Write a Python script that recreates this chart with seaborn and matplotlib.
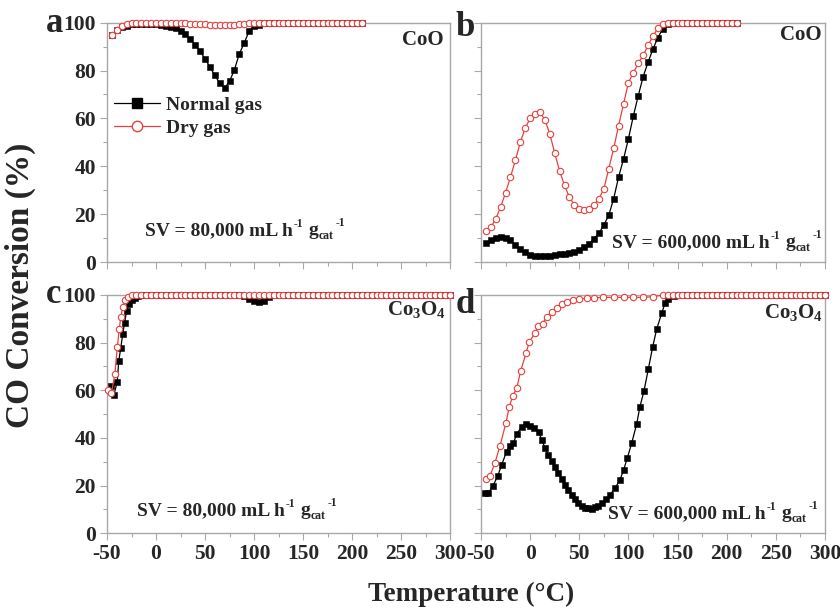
import matplotlib
matplotlib.use("Agg")
import matplotlib.pyplot as plt
import seaborn as sns
from matplotlib.lines import Line2D
from matplotlib.ticker import MultipleLocator

# ---------------- data ----------------
series_labels = ["Normal gas", "Dry gas"]

# Panel a: CoO, SV = 80,000
temp_a = [-45, -40, -35, -30, -25, -20, -15, -10, -5, 0,
          5, 10, 15, 20, 25, 30, 35, 40, 45, 50,
          55, 60, 65, 70, 75, 80, 85, 90, 95, 100,
          105, 110, 115, 120, 125, 130, 135, 140, 145, 150,
          155, 160, 165, 170, 175, 180, 185, 190, 195, 200,
          205, 210]
a_normal = [95, 96.8, 98, 98.8, 99.3, 99.5, 99.6, 99.6, 99.5, 99.3,
            99.1, 98.8, 98.3, 97.6, 96.6, 95.2, 93.2, 90.8, 88, 85,
            81.5, 78, 74.8, 72.6, 75.5, 80.3, 87, 91.5, 96.5, 98.5,
            99.2, 99.7, 99.9, 100, 100, 100, 100, 100, 100, 100,
            100, 100, 100, 100, 100, 100, 100, 100, 100, 100,
            100, 100]
a_dry = [95, 97, 98.7, 99.5, 99.8, 99.8, 99.8, 99.8, 99.8, 99.8,
         99.8, 99.8, 99.8, 99.8, 99.7, 99.7, 99.6, 99.5, 99.4, 99.3,
         99.2, 99.1, 99, 99, 99, 99.1, 99.3, 99.5, 99.7, 99.9,
         100, 100, 100, 100, 100, 100, 100, 100, 100, 100,
         100, 100, 100, 100, 100, 100, 100, 100, 100, 100,
         100, 100]

# Panel b: CoO, SV = 600,000
temp_b = [-45, -40, -35, -30, -25, -20, -15, -10, -5, 0,
          5, 10, 15, 20, 25, 30, 35, 40, 45, 50,
          55, 60, 65, 70, 75, 80, 85, 90, 95, 100,
          105, 110, 115, 120, 125, 130, 135, 140, 145, 150,
          155, 160, 165, 170, 175, 180, 185, 190, 195, 200,
          205, 210]
b_normal = [8, 9.2, 10.2, 10.6, 10.2, 9, 7.2, 5.5, 4, 3,
            2.6, 2.4, 2.5, 2.7, 3, 3.2, 3.5, 3.8, 4.2, 5,
            6.2, 7.6, 9.8, 12, 15.5, 19.5, 26.5, 35.5, 43, 51.5,
            61, 69.5, 77.5, 83.5, 89, 93.8, 97.5, 99.3, 100, 100,
            100, 100, 100, 100, 100, 100, 100, 100, 100, 100,
            100, 100]
b_dry = [13, 14.5, 18, 23, 29, 35.5, 42.5, 50, 56, 60,
         62, 62.5, 59.5, 53.5, 45.5, 38, 32, 27, 24, 22.3,
         21.8, 22.2, 23.8, 26.5, 30.5, 39, 47.5, 57, 66, 75,
         79, 83, 86.5, 90.5, 94.5, 97.6, 99.3, 99.8, 100, 100,
         100, 100, 100, 100, 100, 100, 100, 100, 100, 100,
         100, 100]

# Panel c: Co3O4, SV = 80,000
temp_c_normal = [-46, -43, -39.5, -38, -36, -34, -32, -30, -27.5, -25,
                 -21.5, -18, -14, -10, -5,
                 0, 5, 10, 15, 20, 25, 30, 35, 40, 45,
                 50, 55, 60, 65, 70, 75, 80, 85, 90, 95,
                 100, 105, 110, 115, 120, 125, 130, 135, 140, 145,
                 150, 155, 160, 165, 170, 175, 180, 185, 190, 195,
                 200, 205, 210, 215, 220, 225, 230, 235, 240, 245,
                 250, 255, 260, 265, 270, 275, 280, 285, 290, 295,
                 300]
c_normal = [61.8, 58, 63.6, 72.4, 77.6, 83.5, 88.4, 93.3, 96.1, 97.7,
            98.8, 99.5, 99.8, 100, 100,
            100, 100, 100, 100, 100, 100, 100, 100, 100, 100,
            100, 100, 100, 100, 100, 100, 100, 100, 99.5, 98.5,
            97.3, 97, 97.6, 99.2, 99.8, 100, 100, 100, 100, 100,
            100, 100, 100, 100, 100, 100, 100, 100, 100, 100,
            100, 100, 100, 100, 100, 100, 100, 100, 100, 100,
            100, 100, 100, 100, 100, 100, 100, 100, 100, 100,
            100]
temp_c_dry = [-48.5, -45.5, -42, -39.5, -37.5, -36, -34, -31.7, -28.5, -25,
              -20, -15, -10, -5,
              0, 5, 10, 15, 20, 25, 30, 35, 40, 45,
              50, 55, 60, 65, 70, 75, 80, 85, 90, 95,
              100, 105, 110, 115, 120, 125, 130, 135, 140, 145,
              150, 155, 160, 165, 170, 175, 180, 185, 190, 195,
              200, 205, 210, 215, 220, 225, 230, 235, 240, 245,
              250, 255, 260, 265, 270, 275, 280, 285, 290, 295,
              300]
c_dry = [60, 58.7, 66.8, 78, 85.6, 90.6, 94.8, 97.9, 99.3, 99.8,
         100, 100, 100, 100,
         100, 100, 100, 100, 100, 100, 100, 100, 100, 100,
         100, 100, 100, 100, 100, 100, 100, 100, 100, 100,
         100, 100, 100, 100, 100, 100, 100, 100, 100, 100,
         100, 100, 100, 100, 100, 100, 100, 100, 100, 100,
         100, 100, 100, 100, 100, 100, 100, 100, 100, 100,
         100, 100, 100, 100, 100, 100, 100, 100, 100, 100,
         100]

# Panel d: Co3O4, SV = 600,000
temp_d_normal = [-46, -42.5, -38, -33, -29, -24, -21, -17, -13.7, -8.6,
                 -4.2, 0.3, 4.3, 8.7, 11.7, 15, 18.5, 22, 25.3, 28.7,
                 32.1, 35.5, 38.8, 42.2, 45.6, 49, 52.4, 55.8, 59.2, 62.6,
                 66, 69.4, 72.8, 77, 81.2, 86.3, 91.4, 95, 98.8, 103.3,
                 108.4, 111.7, 115.8, 120.2, 124.7, 128.7, 133.8, 137.2, 140.5, 146,
                 150, 155, 160, 165, 170, 175, 180, 185, 190, 195,
                 200, 205, 210, 215, 220, 225, 230, 235, 240, 245,
                 250, 255, 260, 265, 270, 275, 280, 285, 290, 295,
                 300]
d_normal = [17, 17, 19.8, 24, 28.7, 34.3, 36.8, 37.8, 41.7, 44.7,
            45.9, 45, 44, 42.6, 39.2, 36, 32.9, 30.5, 28, 25.3,
            22.7, 20.3, 18.2, 16.2, 14.3, 12.8, 11.5, 10.8, 10.5, 10.4,
            10.9, 11.6, 12.6, 14.2, 16.1, 18.9, 22.4, 26.5, 31.5, 37.8,
            45.9, 53.1, 59.7, 68.8, 78.3, 85.6, 92.3, 96.5, 98.3, 99.6,
            100, 100, 100, 100, 100, 100, 100, 100, 100, 100,
            100, 100, 100, 100, 100, 100, 100, 100, 100, 100,
            100, 100, 100, 100, 100, 100, 100, 100, 100, 100,
            100]
temp_d_dry = [-44.9, -40.9, -35.8, -30.7, -24.6, -21.2, -17.8, -13.7, -9.6, -4.2,
              -0.8, 4.9, 8.3, 12.8, 16.8, 21.9, 27, 32, 37.1, 44,
              50, 57.5, 65, 74.5, 85, 95, 105, 115, 125, 135,
              140, 145, 150, 155, 160, 165, 170, 175, 180, 185,
              190, 195, 200, 205, 210, 215, 220, 225, 230, 235,
              240, 245, 250, 255, 260, 265, 270, 275, 280, 285,
              290, 295, 300]
d_dry = [22.7, 24, 29.6, 36.6, 46.4, 53.1, 57.6, 60.8, 68.2, 75.5,
         80.4, 83.9, 87.1, 88, 90.9, 92.7, 94.4, 96.2, 97.2, 97.9,
         98.3, 98.6, 98.8, 99, 99, 99, 99, 99, 99.3, 100,
         100, 100, 100, 100, 100, 100, 100, 100, 100, 100,
         100, 100, 100, 100, 100, 100, 100, 100, 100, 100,
         100, 100, 100, 100, 100, 100, 100, 100, 100, 100,
         100, 100, 100]

panel_letters = ["a", "b", "c", "d"]
panel_materials = ["CoO", "CoO", r"Co$_3$O$_4$", r"Co$_3$O$_4$"]
sv_values = ["80,000", "600,000", "80,000", "600,000"]
x_label = "Temperature (°C)"
y_label = "CO Conversion (%)"

# ---------------- styling ----------------
sns.set_theme(style="ticks")
plt.rcParams.update({
    "font.family": ["Liberation Serif", "DejaVu Serif"],
    "font.weight": "bold",
    "mathtext.fontset": "custom",
    "mathtext.rm": "Liberation Serif:bold",
    "mathtext.bf": "Liberation Serif:bold",
    "mathtext.it": "Liberation Serif:bold:italic",
    "mathtext.default": "rm",
    "axes.unicode_minus": False,
})

RED = "#e8413c"
GRAY = "#a8a8a8"
W, H = 840, 608
fig = plt.figure(figsize=(W / 100, H / 100), dpi=100)
fig.patch.set_facecolor("white")


def add_ax(l, r, t, b):
    return fig.add_axes([l / W, 1 - b / H, (r - l) / W, (b - t) / H])


axa = add_ax(107, 450, 22.7, 262)
axb = add_ax(481, 825, 22.7, 262)
axc = add_ax(107, 450, 295, 533.3)
axd = add_ax(481, 825, 295, 533.3)
axes = [axa, axb, axc, axd]

data = [
    (temp_a, a_normal, temp_a, a_dry),
    (temp_b, b_normal, temp_b, b_dry),
    (temp_c_normal, c_normal, temp_c_dry, c_dry),
    (temp_d_normal, d_normal, temp_d_dry, d_dry),
]

for ax, (tn, vn, td, vd) in zip(axes, data):
    sns.lineplot(x=tn, y=vn, ax=ax, color="black", linewidth=0.9,
                 marker="s", markersize=4.2, markeredgecolor="black",
                 markeredgewidth=0.4, clip_on=False, zorder=3)
    sns.lineplot(x=td, y=vd, ax=ax, color=RED, linewidth=0.9,
                 marker="o", markersize=4.6, markerfacecolor="white",
                 markeredgecolor=RED, markeredgewidth=0.8,
                 clip_on=False, zorder=4)
    ax.set_xlim(-50, 300)
    ax.set_ylim(0, 100)
    ax.xaxis.set_major_locator(MultipleLocator(50))
    ax.xaxis.set_minor_locator(MultipleLocator(25))
    ax.yaxis.set_major_locator(MultipleLocator(20))
    ax.yaxis.set_minor_locator(MultipleLocator(10))
    ax.tick_params(which="both", direction="out", color=GRAY, width=0.8,
                   labelsize=15.5, pad=3)
    ax.tick_params(which="major", length=5)
    ax.tick_params(which="minor", length=3)
    for s in ax.spines.values():
        s.set_visible(True)
        s.set_color(GRAY)
        s.set_linewidth(1.0)
    ax.set_xlabel("")
    ax.set_ylabel("")
    ax.set_facecolor("white")

axa.tick_params(labelbottom=False)
axb.tick_params(labelbottom=False, labelleft=False)
axd.tick_params(labelleft=False)

# panel letters
letter_pos = [(55, 32), (465, 36), (54, 303), (465, 313)]
for (x, y), letter in zip(letter_pos, panel_letters):
    fig.text(x / W, 1 - y / H, letter, ha="center", va="baseline",
             fontsize=25, fontweight="bold")

# material labels
mat_pos = [(444, 45), (822, 40), (446, 315), (823, 318)]
for (x, y), txt in zip(mat_pos, panel_materials):
    fig.text(x / W, 1 - y / H, txt, ha="right", va="baseline", fontsize=15)

# SV labels: main text, then small superscripts / subscript
sv_pos = [(145, 235), (612, 247), (137, 515), (608, 518)]
renderer = fig.canvas.get_renderer()
for (x, y), val in zip(sv_pos, sv_values):
    t1 = fig.text(x / W, 1 - y / H, f"SV = {val} mL h", ha="left",
                  va="baseline", fontsize=14)
    xe = t1.get_window_extent(renderer).x1
    t2 = fig.text((xe + 1) / W, 1 - (y - 8) / H, "-1", ha="left",
                  va="baseline", fontsize=8.5)
    xe = t2.get_window_extent(renderer).x1
    t3 = fig.text((xe + 5) / W, 1 - y / H, "g", ha="left",
                  va="baseline", fontsize=14)
    xe = t3.get_window_extent(renderer).x1
    t4 = fig.text((xe + 0.5) / W, 1 - (y + 4) / H, "cat", ha="left",
                  va="baseline", fontsize=8.5)
    xe = t4.get_window_extent(renderer).x1
    fig.text((xe + 2) / W, 1 - (y - 9) / H, "-1", ha="left",
             va="baseline", fontsize=8.5)

# legend
handles = [
    Line2D([], [], color="black", linewidth=0.9, marker="s", markersize=7,
           markeredgecolor="black"),
    Line2D([], [], color=RED, linewidth=0.9, marker="o", markersize=7.5,
           markerfacecolor="white", markeredgecolor=RED, markeredgewidth=1),
]
fig.legend(handles, series_labels, loc="upper left",
           bbox_to_anchor=(114 / W, 1 - 96 / H), frameon=False,
           handlelength=2.35, handletextpad=0.35, labelspacing=0.3,
           borderpad=0, borderaxespad=0, prop={"size": 14, "weight": "bold"})

fig.text(20 / W, 1 - 285 / H, y_label, rotation=90, ha="center", va="center",
         fontsize=24, fontweight="bold")
fig.text(471 / W, 1 - 594 / H, x_label, ha="center", va="center",
         fontsize=19.5, fontweight="bold")

fig.savefig("out.png", dpi=100, facecolor="white")
